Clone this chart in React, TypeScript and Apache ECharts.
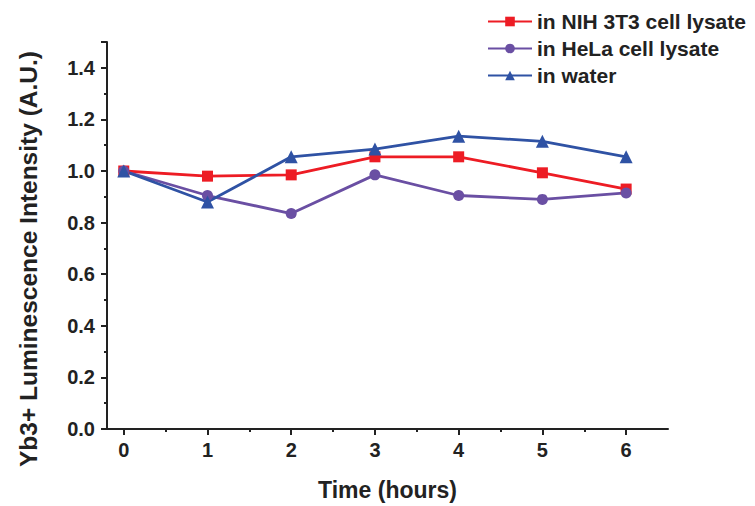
import React, { useEffect, useRef } from "react";
import * as echarts from "echarts";

const hours = [0, 1, 2, 3, 4, 5, 6];
const nih3t3 = [1.0, 0.98, 0.985, 1.055, 1.055, 0.993, 0.93];
const hela = [1.0, 0.905, 0.835, 0.985, 0.905, 0.89, 0.915];
const water = [1.0, 0.88, 1.055, 1.085, 1.135, 1.115, 1.055];
const xMajor = [0, 1, 2, 3, 4, 5, 6];
const xMinor = [0.5, 1.5, 2.5, 3.5, 4.5, 5.5];
const yTitle = "Yb3+ Luminescence Intensity (A.U.)";
const xTitle = "Time (hours)";

const FONT = "Liberation Sans, Arial, sans-serif";

export default function App() {
  const ref = useRef<HTMLDivElement>(null);
  useEffect(() => {
    const chart = echarts.init(ref.current!, null, { renderer: "svg" });
    const pair = (arr: number[]) => hours.map((h, i) => [h, arr[i]]);
    const axisLine = { show: true, onZero: false, lineStyle: { color: "#222", width: 2 } };
    chart.setOption({
      animation: false,
      backgroundColor: "#fff",
      grid: { left: 107, right: 87, top: 42, bottom: 74 },
      legend: {
        orient: "vertical",
        left: 482,
        top: 6,
        itemGap: 6,
        itemWidth: 44,
        itemHeight: 12,
        textStyle: { fontFamily: FONT, fontWeight: "bold", fontSize: 21, color: "#222" },
        data: ["in NIH 3T3 cell lysate", "in HeLa cell lysate", "in water"],
      },
      graphic: [
        {
          type: "text",
          x: 28,
          y: 259,
          rotation: Math.PI / 2,
          style: {
            text: yTitle,
            fontFamily: FONT,
            fontWeight: "bold",
            fontSize: 24.5,
            fill: "#222",
            align: "center",
            verticalAlign: "middle",
          },
        },
      ],
      xAxis: [
        {
          type: "value",
          min: -0.2,
          max: 6.5,
          axisLine,
          splitLine: { show: false },
          axisTick: { show: true, customValues: xMajor, length: 6, lineStyle: { color: "#222", width: 2 } },
          axisLabel: {
            customValues: xMajor,
            fontFamily: FONT,
            fontWeight: "bold",
            fontSize: 20,
            color: "#222",
            margin: 11,
          },
          name: xTitle,
          nameLocation: "middle",
          nameGap: 49,
          nameTextStyle: { fontFamily: FONT, fontWeight: "bold", fontSize: 23, color: "#222" },
        },
        {
          type: "value",
          min: -0.2,
          max: 6.5,
          position: "bottom",
          axisLine: { show: false },
          splitLine: { show: false },
          axisTick: { show: true, customValues: xMinor, length: 3, lineStyle: { color: "#222", width: 2 } },
          axisLabel: { show: false },
        },
      ],
      yAxis: {
        type: "value",
        min: 0,
        max: 1.5,
        interval: 0.2,
        axisLine,
        splitLine: { show: false },
        axisTick: { show: true, length: 6, lineStyle: { color: "#222", width: 2 } },
        minorTick: { show: true, splitNumber: 2, length: 3, lineStyle: { color: "#222", width: 2 } },
        axisLabel: {
          fontFamily: FONT,
          fontWeight: "bold",
          fontSize: 20,
          color: "#222",
          margin: 12,
          formatter: (v: number) => (Math.abs(v - 1.5) < 1e-6 ? "" : v.toFixed(1)),
        },
      },
      series: [
        {
          name: "in NIH 3T3 cell lysate",
          type: "line",
          data: pair(nih3t3),
          symbol: "rect",
          symbolSize: 11,
          color: "#ED1C24",
          lineStyle: { width: 2.8 },
          itemStyle: { color: "#ED1C24" },
        },
        {
          name: "in HeLa cell lysate",
          type: "line",
          data: pair(hela),
          symbol: "circle",
          symbolSize: 11,
          color: "#6A4FA3",
          lineStyle: { width: 2.8 },
          itemStyle: { color: "#6A4FA3" },
        },
        {
          name: "in water",
          type: "line",
          data: pair(water),
          symbol: "triangle",
          symbolSize: 13,
          color: "#2F52A4",
          lineStyle: { width: 2.8 },
          itemStyle: { color: "#2F52A4" },
        },
      ],
    });
    return () => chart.dispose();
  }, []);
  return (
    <div
      ref={ref}
      style={{ position: "absolute", left: 0, top: 0, width: 755, height: 506 }}
    />
  );
}
